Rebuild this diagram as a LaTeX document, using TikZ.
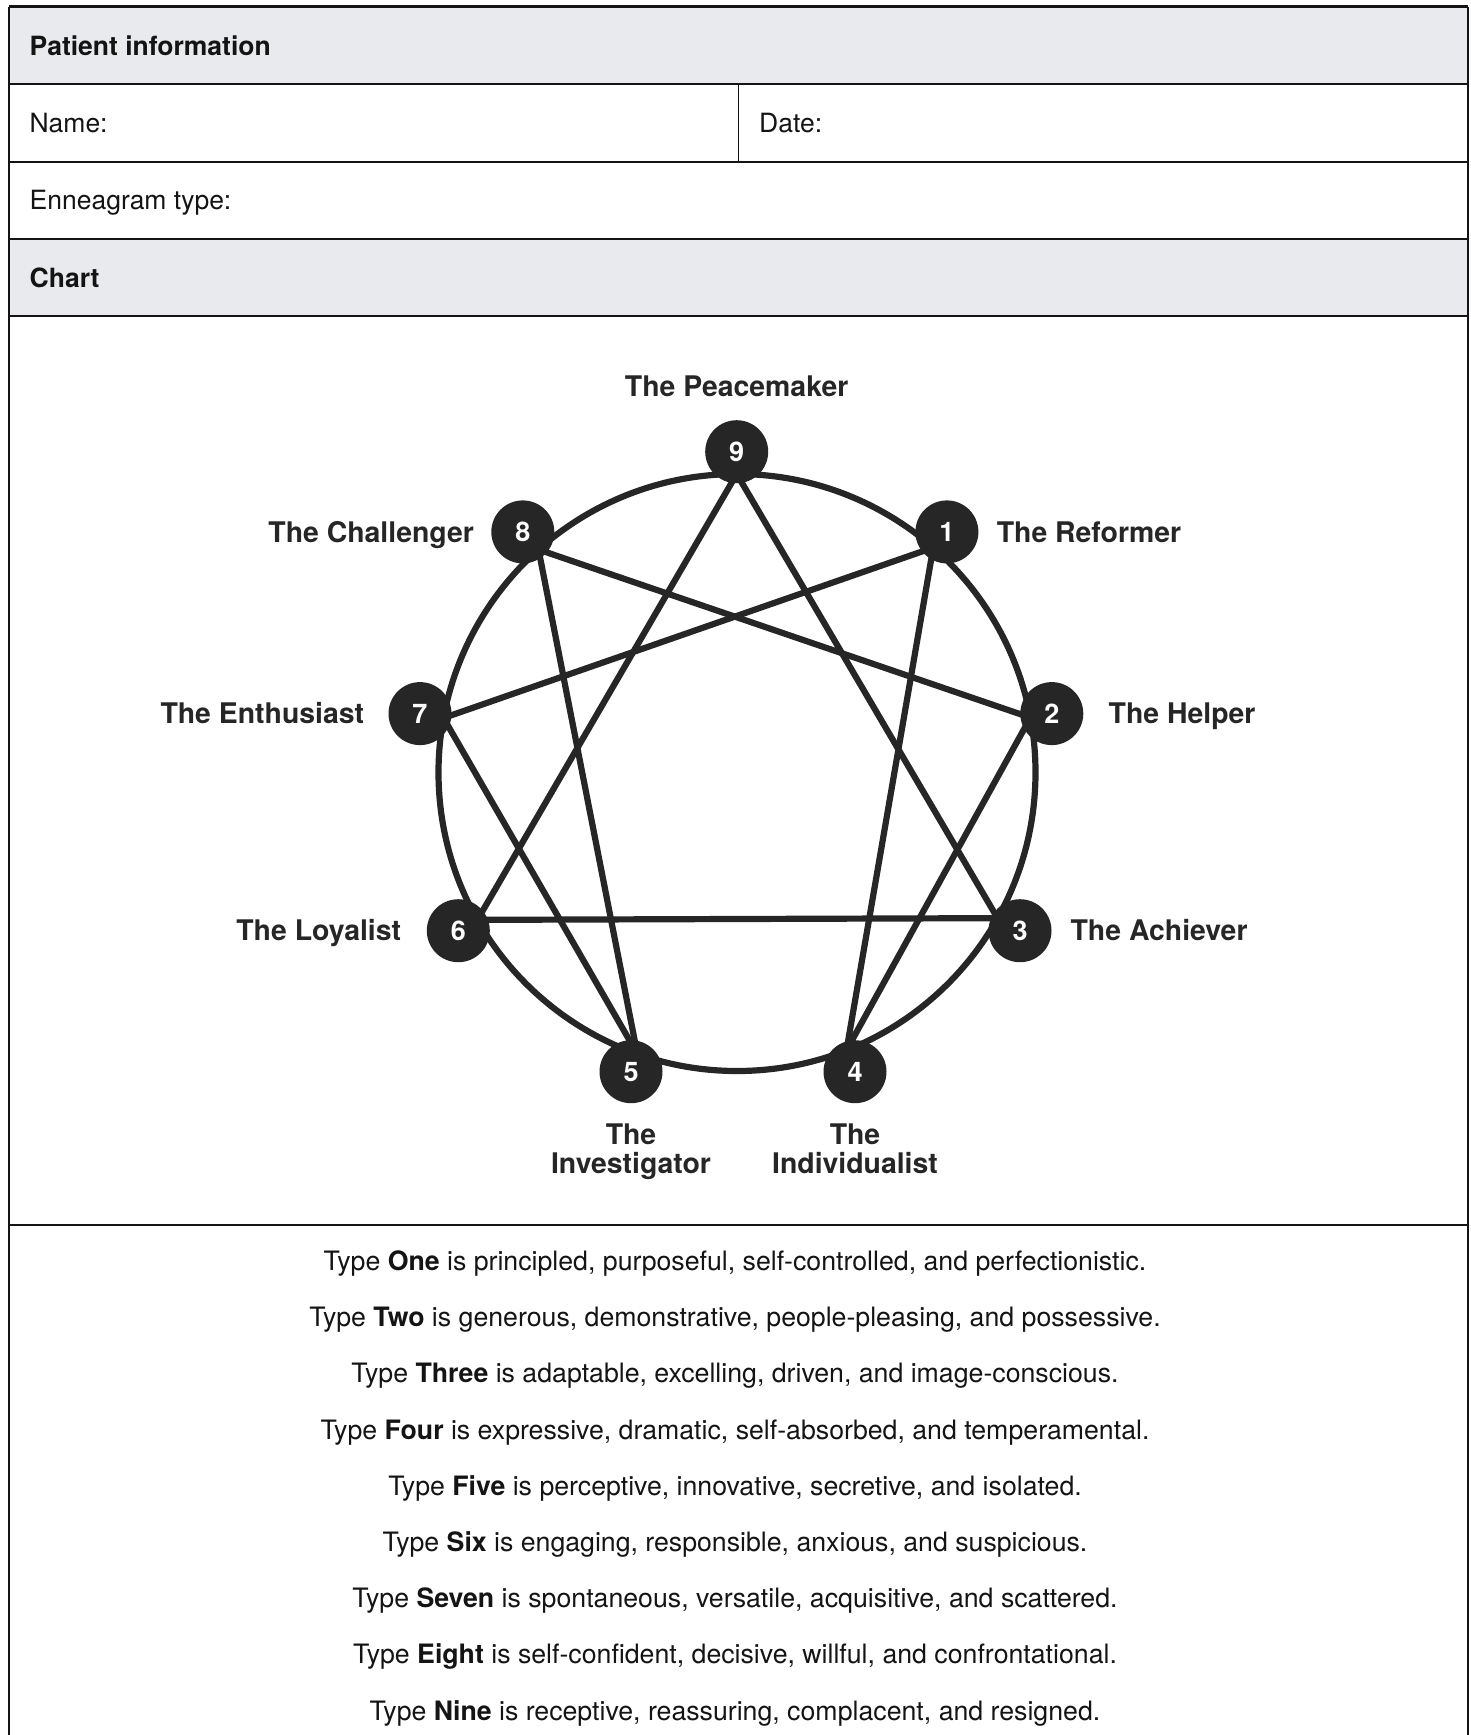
\documentclass[tikz,border=0pt]{standalone}
\usepackage{fontspec}
\setmainfont{TeX Gyre Heros}
\usetikzlibrary{positioning,calc,backgrounds}
\definecolor{headgray}{RGB}{233,234,237}
\definecolor{inkdark}{RGB}{38,38,38}
\definecolor{rulegray}{RGB}{20,20,20}

\begin{document}
\begin{tikzpicture}[x=1pt,y=-1pt,
    every node/.style={inner sep=0pt},
    rowrule/.style={draw=rulegray,line width=2.2pt},
    fieldtext/.style={anchor=base west,text=rulegray,font=\fontsize{26.5}{32}\selectfont},
    desc/.style={anchor=base,text=rulegray,font=\fontsize{26.7}{32}\selectfont},
    typenode/.style={circle,fill=inkdark,minimum size=63pt,text=white,font=\fontsize{27}{27}\selectfont\bfseries},
    typename/.style={text=inkdark,font=\fontsize{28.4}{29}\selectfont\bfseries,text height=20.4pt,text depth=0pt},
    pairname/.style={text=inkdark,align=center,font=\fontsize{28.4}{28.8}\selectfont\bfseries},
    ring/.style={draw=inkdark,line width=6.2pt},
    chord/.style={draw=inkdark,line width=6.2pt}]
    \useasboundingbox (0,0) rectangle (1471,1735);

    % table
    \fill[headgray] (8.7,6.7) rectangle (1468,84.3);
    \fill[headgray] (8.7,238.7) rectangle (1468,316.3);
    \draw[rulegray,line width=3pt] (8.7,6.7) -- (1468,6.7);
    \foreach \ry in {84.3,161.7,238.7,316.3,1225.3}
        \draw[rowrule] (8.7,\ry) -- (1468,\ry);
    \draw[rulegray,line width=1.6pt] (8.7,6.7) -- (8.7,1735);
    \draw[rulegray,line width=1.6pt] (1468,6.7) -- (1468,1735);
    \draw[rulegray,line width=1.6pt] (738.3,84.3) -- (738.3,161.7);

    \node[fieldtext] (pinfo) at (29.5,55) {\bfseries Patient information};
    \node[fieldtext] (name) at (29.5,132.5) {Name:};
    \node[fieldtext] (date) at (759,132.5) {Date:};
    \node[fieldtext] (etype) at (29.5,209.7) {Enneagram type:};
    \node[fieldtext] (chart) at (29.5,287) {\bfseries Chart};

    % enneagram
    \coordinate (cc) at (737,772.5);
    \draw[ring] (cc) circle[radius=298.5];
    \foreach \i/\px/\py in {9/736.7/451.7, 1/946.9/531.9, 2/1051.8/713.6,
                            3/1020/930.7, 4/855/1071.7, 5/631/1071.7,
                            6/458.3/930.7, 7/420/713.6, 8/522.8/531.9}
    {%
    \node[typenode] (n\i) at (\px,\py) {\i};
    \coordinate (p\i) at ($(cc)!298.5pt!(n\i)$);
    }%

    \begin{scope}[on background layer]
    \foreach \s/\t in {9/3,3/6,6/9,1/4,4/2,2/8,8/5,5/7,7/1}
        \draw[chord] (p\s) -- (p\t);
    \end{scope}

    \node[typename,above=23.4pt of n9] (l9) {The Peacemaker};
    \node[typename,right=18pt of n1] (l1) {The Reformer};
    \node[typename,right=25pt of n2] (l2) {The Helper};
    \node[typename,right=18.7pt of n3] (l3) {The Achiever};
    \node[pairname,below=20pt of n4] (l4) {The\\Individualist};
    \node[pairname,below=20pt of n5] (l5) {The\\Investigator};
    \node[typename,left=25.3pt of n6] (l6) {The Loyalist};
    \node[typename,left=24pt of n7] (l7) {The Enthusiast};
    \node[typename,left=17pt of n8] (l8) {The Challenger};

    % descriptions
    \foreach \num/\rest [count=\k] in {
        One/{is principled, purposeful, self-controlled, and perfectionistic.},
        Two/{is generous, demonstrative, people-pleasing, and possessive.},
        Three/{is adaptable, excelling, driven, and image-conscious.},
        Four/{is expressive, dramatic, self-absorbed, and temperamental.},
        Five/{is perceptive, innovative, secretive, and isolated.},
        Six/{is engaging, responsible, anxious, and suspicious.},
        Seven/{is spontaneous, versatile, acquisitive, and scattered.},
        Eight/{is self-confident, decisive, willful, and confrontational.},
        Nine/{is receptive, reassuring, complacent, and resigned.}}
        \node[desc] (d\k) at (735,{1270.5+56.2*(\k-1)}) {Type \textbf{\num} \rest};
\end{tikzpicture}
\end{document}
